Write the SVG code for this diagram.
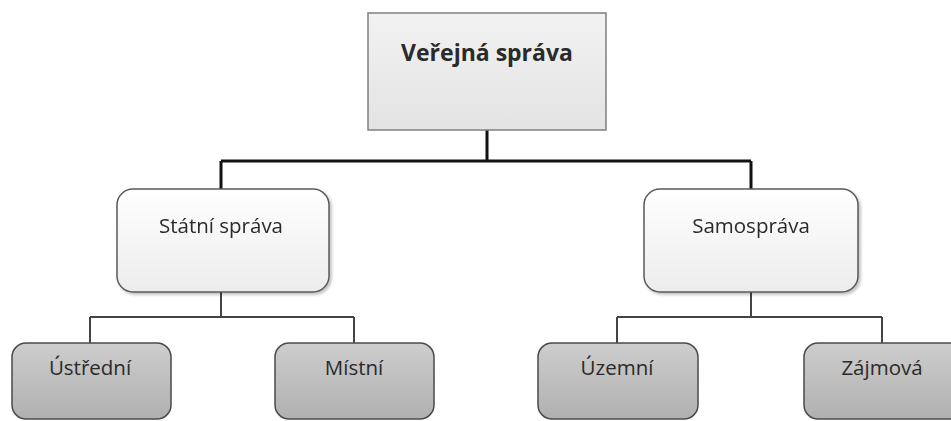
<svg xmlns="http://www.w3.org/2000/svg" width="951" height="421" viewBox="0 0 951 421">
<defs>
<linearGradient id="gTop" x1="0" y1="0" x2="0" y2="1"><stop offset="0" stop-color="#f2f2f2"/><stop offset="1" stop-color="#e3e3e3"/></linearGradient>
<linearGradient id="gMid" x1="0" y1="0" x2="0" y2="1"><stop offset="0" stop-color="#ffffff"/><stop offset="1" stop-color="#ececec"/></linearGradient>
<linearGradient id="gBot" x1="0" y1="0" x2="0" y2="1"><stop offset="0" stop-color="#cdcdcd"/><stop offset="1" stop-color="#b0b0b0"/></linearGradient>
<filter id="sh" x="-10%" y="-10%" width="130%" height="130%"><feGaussianBlur in="SourceAlpha" stdDeviation="1.5"/><feOffset dx="2" dy="2"/><feComponentTransfer><feFuncA type="linear" slope="0.25"/></feComponentTransfer><feMerge><feMergeNode/><feMergeNode in="SourceGraphic"/></feMerge></filter>
</defs>
<style>
text{font-family:"Open Sans","Liberation Sans",sans-serif;fill:#2a2a2a;text-anchor:middle}
.t0{font-size:23px;font-weight:bold}
.t1{font-size:20.5px}
.top{fill:url(#gTop);stroke:#7f7f7f;stroke-width:1.5}
.mid{fill:url(#gMid);stroke:#5a5a5a;stroke-width:1.5}
.bot{fill:url(#gBot);stroke:#4a4a4a;stroke-width:1.5}
.c1{fill:none;stroke:#111;stroke-width:3}
.c2{fill:none;stroke:#444;stroke-width:2}
</style>
<g id="connectors">
<path class="c1" d="M487,130 V161 M221,161 H751 M221,161 V189 M751,161 V189"/>
<path class="c2" d="M221,292 V317 M90,317 H354 M90,317 V343 M354,317 V343"/>
<path class="c2" d="M751,292 V317 M617,317 H882 M617,317 V343 M882,317 V343"/>
</g>
<g id="verejna-sprava">
<rect class="top" x="368" y="13" width="238" height="117"/>
<text class="t0" x="487" y="61">Veřejná správa</text>
</g>
<g id="statni-sprava" filter="url(#sh)">
<rect class="mid" x="117" y="189" width="212" height="103" rx="16"/>
<text class="t1" x="221" y="233">Státní správa</text>
</g>
<g id="samosprava" filter="url(#sh)">
<rect class="mid" x="644" y="189" width="214" height="103" rx="16"/>
<text class="t1" x="751" y="233">Samospráva</text>
</g>
<g id="ustredni">
<rect class="bot" x="12" y="343" width="159" height="76" rx="14"/>
<text class="t1" x="90" y="375">Ústřední</text>
</g>
<g id="mistni">
<rect class="bot" x="275" y="343" width="159" height="76" rx="14"/>
<text class="t1" x="354" y="375">Místní</text>
</g>
<g id="uzemni">
<rect class="bot" x="538" y="343" width="160" height="76" rx="14"/>
<text class="t1" x="617" y="375">Územní</text>
</g>
<g id="zajmova">
<rect class="bot" x="804" y="343" width="160" height="76" rx="14"/>
<text class="t1" x="882" y="375">Zájmová</text>
</g>
</svg>
